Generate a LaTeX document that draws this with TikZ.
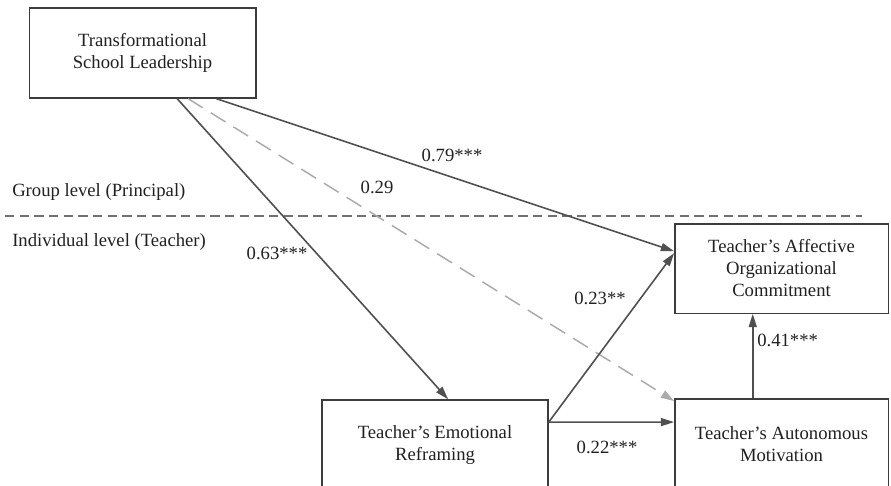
\documentclass[tikz,border=0pt]{standalone}
\usepackage{fontspec}
\setmainfont{Liberation Serif}
\usepackage{tikz}
\usetikzlibrary{arrows.meta, positioning, calc}
\definecolor{linegray}{HTML}{505050}
\definecolor{boxgray}{HTML}{3C3C3C}
\definecolor{dashgray}{HTML}{AAAAAA}
\definecolor{sepgray}{HTML}{707070}
\definecolor{inkgray}{HTML}{202020}
\tikzstyle{factor} = [rectangle, draw=boxgray, line width=1pt, align=center, text=inkgray, inner sep=0pt, font=\fontsize{14}{16.5}\selectfont]
\tikzstyle{coef} = [text=inkgray, inner sep=0pt, font=\fontsize{14}{16.5}\selectfont]
\tikzstyle{path} = [draw=linegray, line width=1.2pt, -{Triangle[length=10pt,width=6pt]}]
\tikzstyle{weakpath} = [draw=dashgray, line width=1.1pt, dash pattern=on 13pt off 7pt, -{Triangle[length=10pt,width=6pt]}]

\begin{document}
\begin{tikzpicture}[x=0.75pt, y=-0.75pt]

\clip (0,0) rectangle (891,485);
\useasboundingbox (0,0) rectangle (891,485);

\node (tsl) [factor, minimum width=170pt, minimum height=67.5pt] at (142.5,53) {Transformational\\School Leadership};
\node (aff) [factor, minimum width=160pt, minimum height=67pt] at (781.5,268.5) {Teacher's Affective\\Organizational\\Commitment};
\node (aut) [factor, minimum width=160pt, minimum height=67.5pt] at (781.5,444) {Teacher's Autonomous\\Motivation};
\node (emo) [factor, minimum width=169.5pt, minimum height=67.5pt] at (435,445) {Teacher's Emotional\\Reframing};

\node (group) [coef, anchor=west] at (12,192) {Group level (Principal)};
\node (indiv) [coef, anchor=west] at (12,242) {Individual level (Teacher)};
\coordinate (sepL) at (5,216);
\coordinate (sepR) at (862,216);
\draw [draw=sepgray, line width=1.1pt, dash pattern=on 7pt off 4pt] (sepL) -- (sepR);

\draw [path] ($(tsl.south west)!0.652!(tsl.south east)$) -- ($(emo.north west)!0.558!(emo.north east)$);
\draw [weakpath] ($(tsl.south west)!0.70!(tsl.south east)$) -- ($(aut.north west)!0.03!(aut.south west)$);
\draw [path] ($(tsl.south west)!0.824!(tsl.south east)$) -- ($(aff.north west)!0.31!(aff.south west)$);
\draw [path] ($(emo.north east)!0.25!(emo.south east)$) -- ($(aff.north west)!0.33!(aff.south west)$);
\draw [path] ($(emo.north east)!0.25!(emo.south east)$) -- ($(aut.north west)!0.26!(aut.south west)$);
\draw [path] ($(aut.north west)!0.366!(aut.north east)$) -- ($(aff.south west)!0.366!(aff.south east)$);

\node (c1) [coef] at (277,253) {0.63***};
\node (c2) [coef] at (377,187) {0.29};
\node (c3) [coef] at (452,155) {0.79***};
\node (c4) [coef] at (600,298) {0.23**};
\node (c5) [coef, anchor=west] at (757,340) {0.41***};
\node (c6) [coef] at (607,447) {0.22***};

\end{tikzpicture}
\end{document}
